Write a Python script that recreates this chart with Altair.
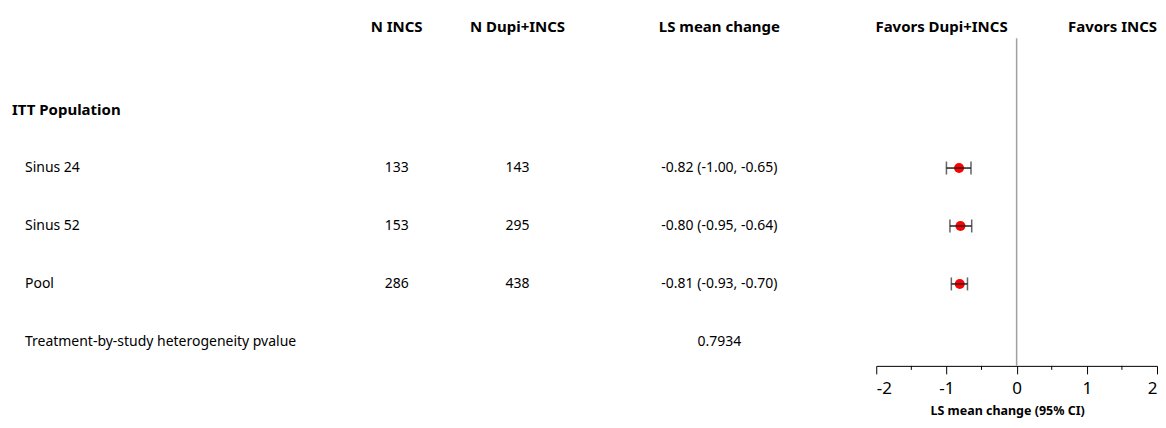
import altair as alt
import pandas as pd

# ---- data ----
studies = ["Sinus 24", "Sinus 52", "Pool"]
n_incs = [133, 153, 286]
n_dupi = [143, 295, 438]
est = [-0.82, -0.80, -0.81]
lo = [-1.00, -0.95, -0.93]
hi = [-0.65, -0.64, -0.70]
group_label = "ITT Population"
het_label = "Treatment-by-study heterogeneity pvalue"
het_p = "0.7934"
headers = ["N INCS", "N Dupi+INCS", "LS mean change"]
favors = ["Favors Dupi+INCS", "Favors INCS"]
axis_ticks = [-2, -1, 0, 1, 2]
minor_ticks = [-1.5, -0.5, 0.5, 1.5]
x_title = "LS mean change (95% CI)"

# ---- layout constants (row slots and column anchors) ----
HEADER_ROW = -0.431
Y_DOMAIN = [-0.759, 5.414]
RULE_TOP = -0.241
LEFT_W, RIGHT_W, H = 868, 281, 358
COL = {"group": 4, "label": 17, "n1": 389, "n2": 510, "ls": 712}
FONT = "Noto Sans"
FS, FSB = 14, 15

yscale = alt.Scale(domain=Y_DOMAIN, reverse=True, nice=False, zero=False)

# left text table
rows = []
for h, c in zip(headers, ["n1", "n2", "ls"]):
    rows.append(dict(x=COL[c], y=HEADER_ROW, t=h, bold=True, al="center"))
rows.append(dict(x=COL["group"], y=1, t=group_label, bold=True, al="left"))
for i, s in enumerate(studies):
    r = i + 2
    rows.append(dict(x=COL["label"], y=r, t=s, bold=False, al="left"))
    rows.append(dict(x=COL["n1"], y=r, t=str(n_incs[i]), bold=False, al="center"))
    rows.append(dict(x=COL["n2"], y=r, t=str(n_dupi[i]), bold=False, al="center"))
    rows.append(dict(x=COL["ls"], y=r, t=f"{est[i]:.2f} ({lo[i]:.2f}, {hi[i]:.2f})", bold=False, al="center"))
rows.append(dict(x=COL["label"], y=5, t=het_label, bold=False, al="left"))
rows.append(dict(x=COL["ls"], y=5, t=het_p, bold=False, al="center"))
tdf = pd.DataFrame(rows)

xl = alt.X("x:Q", scale=alt.Scale(domain=[0, LEFT_W], nice=False, zero=False), axis=None)
yl = alt.Y("y:Q", scale=yscale, axis=None)


def txt(df, bold, align):
    return alt.Chart(df).mark_text(
        font=FONT, fontSize=FSB if bold else FS, fontWeight="bold" if bold else "normal",
        align=align, baseline="middle", color="#000"
    ).encode(x=xl, y=yl, text="t:N")


left_layers = []
for b in [True, False]:
    for a in ["left", "center"]:
        sub = tdf[(tdf.bold == b) & (tdf.al == a)]
        if len(sub):
            left_layers.append(txt(sub, b, a))
left = alt.layer(*left_layers).properties(width=LEFT_W, height=H)

# forest panel
fdf = pd.DataFrame(dict(y=[2, 3, 4], est=est, lo=lo, hi=hi))
xs = alt.Scale(domain=[-2, 2], nice=False, zero=False)
xr = alt.X("est:Q", scale=xs, title=x_title,
           axis=alt.Axis(values=axis_ticks, labelExpr="'' + datum.value", tickSize=8,
                         tickColor="#000", domainColor="#000", labelFontSize=17,
                         labelFont=FONT, labelColor="#000", labelPadding=7, titleFont=FONT,
                         titleFontSize=12.5, titleFontWeight="bold", titleColor="#000",
                         titlePadding=8, grid=False, titleX=131))
yr = alt.Y("y:Q", scale=yscale, axis=None)

vdf = pd.DataFrame(dict(v=[0], y1=[RULE_TOP], y2=[Y_DOMAIN[1]]))
vline = alt.Chart(vdf).mark_rule(color="#a0a0a0", strokeWidth=1.5).encode(
    x=alt.X("v:Q", scale=xs), y=alt.Y("y1:Q", scale=yscale, axis=None), y2="y2:Q")
minor = alt.Chart(pd.DataFrame(dict(v=minor_ticks))).mark_rule(color="#000", strokeWidth=1).encode(
    x=alt.X("v:Q", scale=xs), y=alt.value(H), y2=alt.value(H + 4))
bars = alt.Chart(fdf).mark_rule(color="#222", strokeWidth=1.5).encode(
    x=alt.X("lo:Q", scale=xs), x2="hi:Q", y=yr)
capl = alt.Chart(fdf).mark_tick(color="#222", orient="vertical", size=13, thickness=1.5).encode(
    x=alt.X("lo:Q", scale=xs), y=yr)
caph = alt.Chart(fdf).mark_tick(color="#222", orient="vertical", size=13, thickness=1.5).encode(
    x=alt.X("hi:Q", scale=xs), y=yr)
pts = alt.Chart(fdf).mark_circle(color="#ff0000", size=100, opacity=1).encode(x=xr, y=yr)

fav1 = alt.Chart(pd.DataFrame(dict(t=[favors[0]], x=[-1.07], y=[HEADER_ROW]))).mark_text(
    font=FONT, fontSize=FSB, fontWeight="bold", color="#000", baseline="middle",
    align="center").encode(x=alt.X("x:Q", scale=xs), y=yr, text="t:N")
fav2 = alt.Chart(pd.DataFrame(dict(t=[favors[1]], x=[2.0], y=[HEADER_ROW]))).mark_text(
    font=FONT, fontSize=FSB, fontWeight="bold", color="#000", baseline="middle",
    align="right").encode(x=alt.X("x:Q", scale=xs), y=yr, text="t:N")

right = alt.layer(pts, vline, minor, bars, capl, caph, fav1, fav2).properties(
    width=RIGHT_W, height=H)

chart = alt.hconcat(left, right, spacing=0).properties(padding=0).configure_view(stroke=None)
chart.save("out.html", embed_options={"renderer": "svg", "actions": False})
